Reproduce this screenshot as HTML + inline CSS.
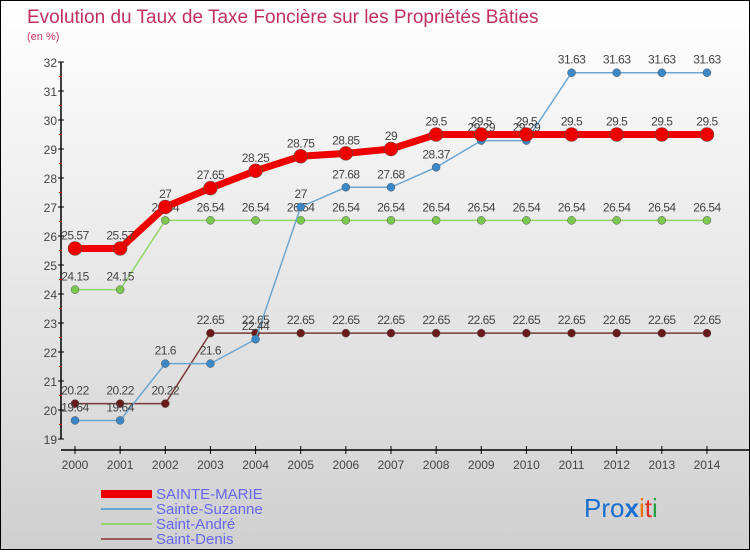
<!DOCTYPE html>
<html><head><meta charset="utf-8"><style>
html,body{margin:0;padding:0}
body{width:750px;height:550px;overflow:hidden;font-family:"Liberation Sans",sans-serif}
#wrap{position:relative;width:748px;height:548px;border:1px solid #000;background:linear-gradient(#fff,#d0d0d0)}
</style></head><body>
<div id="wrap">
<svg id="chart" width="748" height="548">
<text x="26" y="22" font-size="19" fill="#c0305f">Evolution du Taux de Taxe Foncière sur les Propriétés Bâties</text>
<text x="26" y="39" font-size="11" fill="#c8356a">(en %)</text>
<g id="axes"></g><g id="series"></g>
<g>
<rect x="100" y="489" width="51" height="8" fill="#e00"/>
<text x="155" y="498" font-size="15" fill="#6666ee">SAINTE-MARIE</text>
<line x1="100" y1="508" x2="151" y2="508" stroke="#6aa6d2" stroke-width="2"/>
<text x="155" y="513" font-size="15" fill="#6666ee">Sainte-Suzanne</text>
<line x1="100" y1="523" x2="151" y2="523" stroke="#92d36a" stroke-width="2"/>
<text x="155" y="528" font-size="15" fill="#6666ee">Saint-André</text>
<line x1="100" y1="538" x2="151" y2="538" stroke="#9a5a5a" stroke-width="2"/>
<text x="155" y="543" font-size="15" fill="#6666ee">Saint-Denis</text>
</g>
<text x="583" y="516" font-size="26"><tspan fill="#1a6fd0">Pro</tspan><tspan fill="#1a6fd0" font-weight="bold">x</tspan><tspan fill="#f07000">i</tspan><tspan fill="#e03020">t</tspan><tspan fill="#20a040">i</tspan></text>
</svg></div>
<script>
const years=[2000,2001,2002,2003,2004,2005,2006,2007,2008,2009,2010,2011,2012,2013,2014];
const sainteMarie=[25.57,25.57,27,27.65,28.25,28.75,28.85,29,29.5,29.5,29.5,29.5,29.5,29.5,29.5];
const sainteSuzanne=[19.64,19.64,21.6,21.6,22.44,27,27.68,27.68,28.37,29.29,29.29,31.63,31.63,31.63,31.63];
const saintAndre=[24.15,24.15,26.54,26.54,26.54,26.54,26.54,26.54,26.54,26.54,26.54,26.54,26.54,26.54,26.54];
const saintDenis=[20.22,20.22,20.22,22.65,22.65,22.65,22.65,22.65,22.65,22.65,22.65,22.65,22.65,22.65,22.65];
const yTicks=[19,20,21,22,23,24,25,26,27,28,29,30,31,32];
const NS="http://www.w3.org/2000/svg";
function x(i){return 74+i*45.14;}
function y(v){return 438-(v-19)*29.0;}
function mk(tag,attrs,parent){const e=document.createElementNS(NS,tag);for(const k in attrs)e.setAttribute(k,attrs[k]);parent.appendChild(e);return e;}
const axes=document.getElementById('axes');
let a=mk('line',{x1:60,y1:y(32),x2:60,y2:y(19),stroke:'#000','stroke-width':1.5},axes);


a=mk('line',{x1:60,y1:449,x2:748,y2:449,stroke:'#000','stroke-width':1.5},axes);


yTicks.forEach(t=>{
 mk('line',{x1:57,y1:y(t),x2:63,y2:y(t),stroke:'#000'},axes);
 if(t<32)mk('line',{x1:58,y1:y(t+0.5),x2:61,y2:y(t+0.5),stroke:'#e00'},axes);
 const tx=mk('text',{x:56,y:y(t)+5,'font-size':12,fill:'#444','text-anchor':'end'},axes);
 tx.textContent=t;
 
 
});
years.forEach((yr,i)=>{
 mk('line',{x1:x(i),y1:445,x2:x(i),y2:453,stroke:'#000'},axes);
 const tx=mk('text',{x:x(i),y:468,'font-size':12,fill:'#444','text-anchor':'middle'},axes);
 tx.textContent=yr;
 
 
});
const ser=document.getElementById('series');
function draw(vals,name,color,dot,w,r){
 const g=mk('g',{},ser);
 
 
 const pl=mk('polyline',{points:vals.map((v,i)=>x(i)+','+y(v)).join(' '),fill:'none',stroke:color,'stroke-width':w},g);
 
 
 vals.forEach((v,i)=>{
  const c=mk('circle',{cx:x(i),cy:y(v),r:r,fill:dot,stroke:'#555','stroke-width':0.5},g);
  
  
  const t=mk('text',{x:x(i),y:y(v)-9,'font-size':12,fill:'#444','text-anchor':'middle','letter-spacing':'-0.5'},g);
  t.textContent=v;
  
  
 });
}
draw(saintDenis,'saint-denis','#7a3a3a','#6a1a1a',1.5,4);
draw(saintAndre,'saint-andre','#92d36a','#7ac850',1.5,4);
draw(sainteSuzanne,'sainte-suzanne','#6aa6d2','#3a88c8',1.5,4);
draw(sainteMarie,'sainte-marie','#ee0000','#ee0000',7,7);
</script>
</body></html>
